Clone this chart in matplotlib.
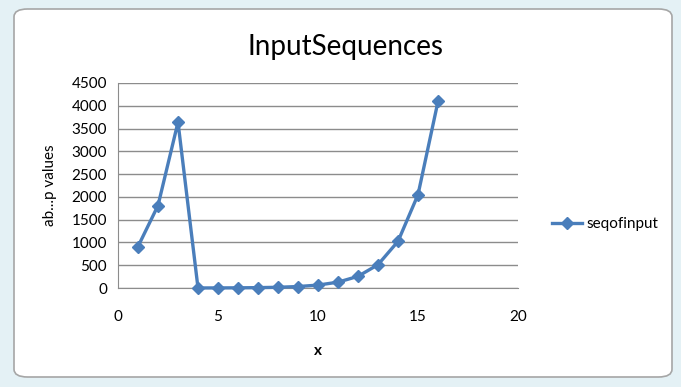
import matplotlib
matplotlib.use('Agg')
import matplotlib.pyplot as plt
from matplotlib.patches import FancyBboxPatch

# Chart data.
x_values = [1, 2, 3, 4, 5, 6, 7, 8, 9, 10, 11, 12, 13, 14, 15, 16]
seq_values = [910, 1810, 3640, 1, 2, 4, 8, 16, 32, 64, 128, 256, 512, 1024, 2048, 4096]
y_ticks = [0, 500, 1000, 1500, 2000, 2500, 3000, 3500, 4000, 4500]
x_ticks = [0, 5, 10, 15, 20]

line_color = '#4a7ebb'
grid_color = '#8c8c8c'
plt.rcParams['font.family'] = ['Lato', 'DejaVu Sans']

fig = plt.figure(figsize=(6.81, 3.87), dpi=100)
fig.patch.set_facecolor('#e4f1f5')

# Chart frame (the Excel chart object with rounded corners).
frame = FancyBboxPatch((14 / 681, 10 / 387), 658 / 681, 368 / 387,
                       boxstyle='round,pad=0,rounding_size=0.02',
                       transform=fig.transFigure, facecolor='white',
                       edgecolor='#a6a6a6', linewidth=1.2, zorder=-5)
fig.patches.append(frame)

ax = fig.add_axes([118 / 681, 1 - 288 / 387, 400 / 681, 205 / 387])
ax.set_zorder(2)
ax.set_facecolor('none')
ax.plot(x_values, seq_values, color=line_color, linewidth=2.4, marker='D',
        markersize=6.5, markerfacecolor=line_color, markeredgecolor=line_color,
        label='seqofinput', zorder=3, clip_on=False)

ax.set_xlim(0, 20)
ax.set_ylim(0, 4500)
ax.set_xticks(x_ticks)
ax.set_yticks(y_ticks)
ax.yaxis.grid(True, color=grid_color, linewidth=1)
ax.set_axisbelow(True)
for side in ['top', 'right']:
    ax.spines[side].set_visible(False)
for side in ['left', 'bottom']:
    ax.spines[side].set_color(grid_color)
ax.tick_params(axis='both', length=0, labelsize=11, colors='black')
ax.tick_params(axis='x', pad=16)
ax.tick_params(axis='y', pad=8)

fig.text(345 / 681, 1 - 47 / 387, 'InputSequences', fontsize=20,
         ha='center', va='center')
ax.set_ylabel('ab...p values', fontsize=11, labelpad=10)
ax.set_xlabel('x', fontsize=11, fontweight='bold', labelpad=14)

ax.legend(loc='center left', bbox_to_anchor=(1.05, 0.31), frameon=False,
          fontsize=11, handlelength=2.0, handletextpad=0.3)

fig.savefig('out.png', dpi=100, facecolor=fig.get_facecolor())
